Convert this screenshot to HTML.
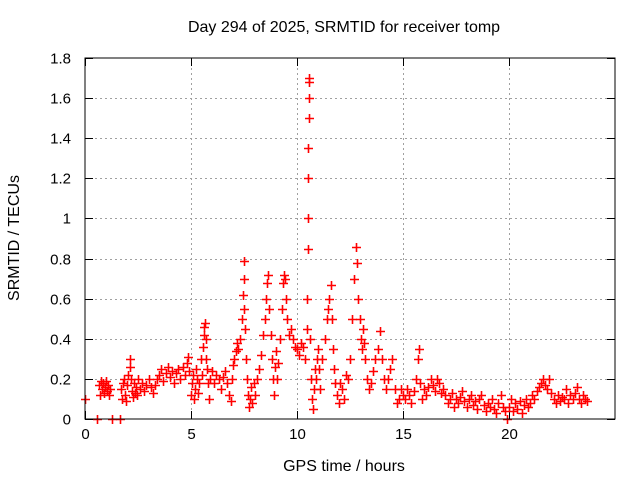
<!DOCTYPE html>
<html><head><meta charset="utf-8"><style>
html,body{margin:0;padding:0;background:#fff;}
svg{display:block;font-family:"Liberation Sans",Arial,sans-serif;}
</style></head><body>
<svg id="chart" width="640" height="480">
<text x="344" y="32" text-anchor="middle" font-size="16" fill="#000">Day 294 of 2025, SRMTID for receiver tomp</text>
<text transform="translate(19,238) rotate(-90)" text-anchor="middle" font-size="16" fill="#000">SRMTID / TECUs</text>
<text x="344" y="471" text-anchor="middle" font-size="16" fill="#000">GPS time / hours</text>
<g id="grid"></g>
<g id="axes"></g>
<g id="points"></g>
<rect x="85" y="58" width="530" height="361" fill="none" stroke="#000" stroke-width="1"/>
</svg>
<script>
const xTicks=[0,5,10,15,20];
const yTicks=[0,0.2,0.4,0.6,0.8,1,1.2,1.4,1.6,1.8];
const yTickLabels=["0","0.2","0.4","0.6","0.8","1","1.2","1.4","1.6","1.8"];
const times=[0,0.57,1.28,1.65,
0.65,0.7,0.75,0.8,0.85,0.9,0.95,1.0,1.05,1.1,1.15,1.2,
1.7,1.75,1.8,1.85,1.9,1.95,2.0,2.05,2.1,2.12,2.15,2.2,2.25,2.3,2.35,2.4,2.45,
2.5,2.6,2.7,2.8,2.9,3.0,3.1,3.2,3.3,3.4,
3.5,3.6,3.7,3.8,3.9,4.0,4.1,4.2,4.3,4.4,4.5,4.6,4.7,4.8,4.85,4.9,
5.0,5.05,5.1,5.15,5.2,5.25,5.3,5.35,5.4,5.45,5.5,
5.55,5.6,5.62,5.65,5.7,5.72,5.75,5.8,5.85,
5.9,6.0,6.1,6.2,6.3,6.4,6.5,6.6,6.7,6.8,6.9,6.95,7.0,7.05,7.1,7.15,
7.2,7.3,7.4,7.45,7.48,7.5,7.52,7.55,7.6,7.65,
7.7,7.75,7.8,7.85,7.9,7.95,
8.0,8.1,8.2,8.3,8.4,8.5,8.55,8.6,8.65,8.7,8.75,
8.8,8.85,8.9,8.95,9.0,9.05,9.1,
9.2,9.3,9.35,9.4,9.45,9.5,9.55,9.6,9.7,9.8,9.9,10.0,10.1,10.2,10.3,
10.4,10.45,10.48,10.5,10.52,10.53,10.54,10.55,10.56,10.57,10.58,10.6,10.65,10.7,10.75,10.8,10.85,10.9,10.95,11.0,11.05,11.1,
11.2,11.3,11.4,11.45,11.5,11.6,11.65,11.7,11.75,11.8,11.9,12.0,12.05,12.1,12.2,12.3,12.4,
12.5,12.6,12.7,12.8,12.85,12.9,12.95,13.0,13.05,13.1,13.15,13.2,13.3,13.4,13.5,13.6,
13.7,13.8,13.9,14.0,14.1,14.2,14.3,14.4,14.5,14.6,14.7,14.8,14.9,15.0,
15.1,15.2,15.3,15.4,15.5,15.6,15.7,15.75,15.8,15.9,16.0,16.1,16.2,16.3,16.4,16.5,16.6,16.7,16.8,16.9,17.0,
17.1,17.2,17.3,17.4,17.5,17.6,17.7,17.8,17.9,18.0,18.1,18.2,18.3,18.4,18.5,18.6,18.7,18.8,18.9,19.0,19.1,19.2,19.3,19.4,19.5,19.6,19.7,19.8,19.9,
20.0,20.1,20.2,20.3,20.4,20.5,20.6,20.7,20.8,20.9,21.0,21.1,21.2,21.3,21.4,21.5,21.6,21.7,21.8,21.9,22.0,22.1,22.2,22.3,22.4,22.5,22.6,22.7,22.8,22.9,23.0,23.1,23.2,23.3,23.4,23.5,23.6,23.7];
const srmtid=[0.10,0,0,0,
0.17,0.12,0.19,0.15,0.18,0.13,0.16,0.19,0.14,0.17,0.12,0.15,
0.15,0.10,0.18,0.20,0.12,0.09,0.17,0.22,0.30,0.26,0.20,0.14,0.11,0.18,0.13,0.16,0.12,
0.20,0.15,0.18,0.14,0.17,0.20,0.16,0.13,0.17,0.20,
0.22,0.25,0.19,0.23,0.26,0.21,0.24,0.18,0.23,0.25,0.20,0.26,0.22,0.28,0.31,0.24,
0.12,0.18,0.22,0.10,0.15,0.25,0.20,0.13,0.18,0.30,0.22,
0.36,0.42,0.46,0.48,0.40,0.30,0.25,0.18,0.10,
0.20,0.24,0.18,0.22,0.20,0.15,0.21,0.24,0.18,0.12,0.09,0.20,0.27,0.30,0.34,0.38,
0.35,0.40,0.50,0.62,0.70,0.79,0.55,0.45,0.30,0.20,
0.12,0.06,0.10,0.16,0.08,0.18,
0.12,0.20,0.25,0.32,0.42,0.50,0.60,0.68,0.72,0.55,0.42,
0.30,0.20,0.12,0.26,0.34,0.20,0.28,
0.40,0.55,0.68,0.72,0.70,0.60,0.50,0.42,0.45,0.40,0.36,0.35,0.32,0.38,0.36,
0.30,0.45,0.60,0.85,1.00,1.20,1.35,1.50,1.60,1.70,1.68,0.40,0.20,0.10,0.05,0.15,0.25,0.20,0.30,0.35,0.25,0.15,
0.30,0.40,0.50,0.55,0.60,0.67,0.50,0.35,0.25,0.18,0.12,0.08,0.18,0.15,0.10,0.22,0.20,
0.30,0.50,0.70,0.86,0.78,0.60,0.50,0.40,0.35,0.45,0.38,0.30,0.20,0.15,0.18,0.24,
0.30,0.35,0.44,0.30,0.20,0.15,0.20,0.25,0.30,0.15,0.08,0.10,0.15,0.12,
0.10,0.15,0.12,0.08,0.14,0.20,0.30,0.35,0.18,0.10,0.15,0.12,0.16,0.20,0.17,0.14,0.20,0.18,0.13,0.15,0.12,
0.08,0.10,0.13,0.06,0.10,0.08,0.11,0.14,0.09,0.06,0.10,0.12,0.07,0.09,0.05,0.10,0.12,0.07,0.04,0.08,0.06,0.10,0.05,0.03,0.08,0.12,0.06,0.04,0,
0.06,0.10,0.04,0.08,0.05,0.09,0.03,0.07,0.10,0.06,0.08,0.12,0.10,0.14,0.16,0.18,0.20,0.17,0.15,0.20,0.13,0.10,0.08,0.12,0.09,0.11,0.10,0.15,0.08,0.12,0.10,0.13,0.16,0.10,0.08,0.12,0.10,0.09];

const NS="http://www.w3.org/2000/svg";
const X0=85,X1=615,Y0=419,Y1=58,XMAX=25,YMAX=1.8;
function xs(t){return X0+(X1-X0)*t/XMAX;}
function ys(v){return Y0-(Y0-Y1)*v/YMAX;}
function mk(tag,attrs,parent){const e=document.createElementNS(NS,tag);for(const k in attrs)e.setAttribute(k,attrs[k]);parent.appendChild(e);return e;}
const grid=document.getElementById('grid'),axes=document.getElementById('axes'),pts=document.getElementById('points');
yTicks.forEach((v,i)=>{
  const y=Math.round(ys(v))+0.5;
  if(v>0&&v<YMAX){const g=mk('line',{x1:X0,x2:X1,y1:y,y2:y,stroke:'#a0a0a0','stroke-dasharray':'2,3'},grid);
  
  }
  const t1=mk('line',{x1:X0,x2:X0+8,y1:y,y2:y,stroke:'#000'},axes);
  
  
  const t2=mk('line',{x1:X1-8,x2:X1,y1:y,y2:y,stroke:'#000'},axes);
  
  
  const tx=mk('text',{x:X0-14,y:y+5,'text-anchor':'end','font-size':'15',fill:'#000'},axes);
  tx.textContent=yTickLabels[i];
  
  
});
xTicks.forEach(t=>{
  const x=Math.round(xs(t))+0.5;
  if(t>0){const g=mk('line',{x1:x,x2:x,y1:Y1,y2:Y0,stroke:'#a0a0a0','stroke-dasharray':'2,3'},grid);
  
  }
  const t1=mk('line',{x1:x,x2:x,y1:Y0-8,y2:Y0,stroke:'#000'},axes);
  
  
  const t2=mk('line',{x1:x,x2:x,y1:Y1,y2:Y1+8,stroke:'#000'},axes);
  
  
  const tx=mk('text',{x:x,y:Y0+20,'text-anchor':'middle','font-size':'15',fill:'#000'},axes);
  tx.textContent=String(t);
  
  
});
times.forEach((t,i)=>{
  const x=Math.round(xs(t))+0.5,y=Math.round(ys(srmtid[i]))+0.5;
  const p=mk('path',{d:`M${x-4.5} ${y}H${x+4.5}M${x} ${y-4.5}V${y+4.5}`,stroke:'#ff0000','stroke-width':'1.6',fill:'none'},pts);
  
  
});
</script>
</body></html>
